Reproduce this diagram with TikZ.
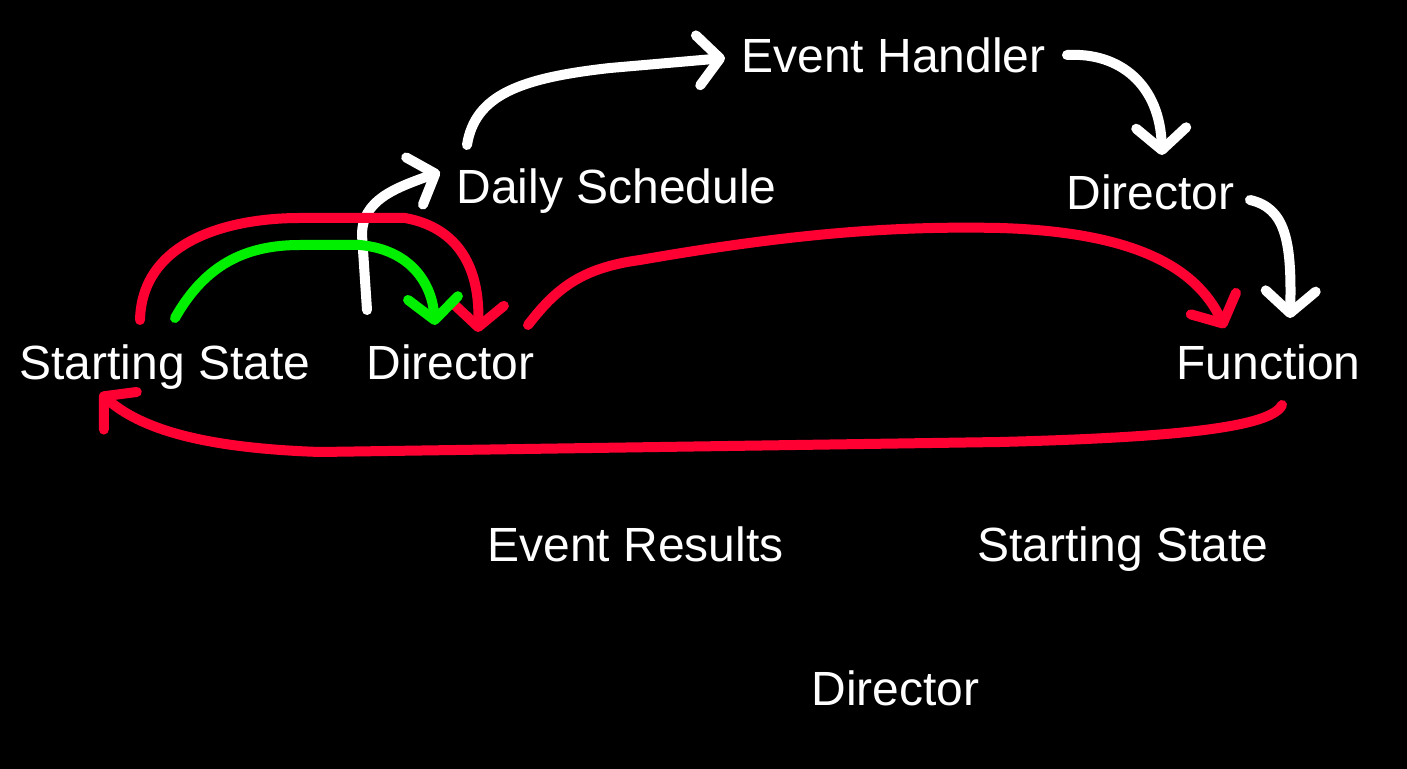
\documentclass[tikz,border=0pt]{standalone}
\usepackage{fontspec}
\setmainfont{Liberation Sans}
\usetikzlibrary{arrows.meta,positioning}
\definecolor{penred}{RGB}{255,0,51}
\definecolor{pengreen}{RGB}{0,240,0}

\begin{document}
\begin{tikzpicture}[
        x=0.5pt, y=-0.5pt,
        every node/.style={text=white, inner sep=0pt, anchor=base west, font=\fontsize{24}{29}\selectfont},
        pen/.style={line width=5pt, line cap=round, line join=round, -{Straight Barb[length=11pt,width=25pt,round]}}
    ]
    \fill[black] (0,0) rectangle (1407,769);

    % Nodes
    \node (ssL) at (19,380) {Starting State};
    \node (dirL) at (366,380) {Director};
    \node (fn) at (1176,380) {Function};
    \node (daily) at (456,204) {Daily Schedule};
    \node (evh) at (741,73) {Event Handler};
    \node (dirR) at (1066,210) {Director};
    \node (evr) at (487,561) {Event Results};
    \node (ssR) at (977,561) {Starting State};
    \node (dirB) at (811,705) {Director};

    % Edges
    \draw[pen, white] ([shift={(1,-70)}]dirL.base west) -- (362,235) .. controls (362,200) and (395,188) .. ([shift={(-16,-32)}]daily.base west);
    \draw[pen, white] ([shift={(11,-59)}]daily.base west) .. controls (475,95) and (520,78) .. (610,68) -- ([shift={(-16,-15)}]evh.base west);
    \draw[pen, white] ([shift={(326,-18)}]evh.base west) .. controls (1120,52) and (1160,85) .. ([shift={(96,-55)}]dirR.base west);
    \draw[pen, white] ([shift={(184,-10)}]dirR.base west) .. controls (1285,208) and (1292,240) .. ([shift={(114,-62)}]fn.base west);
    \draw[pen, penred] ([shift={(121,-60)}]ssL.base west) .. controls (142,240) and (230,218) .. (300,218) -- (405,218) .. controls (460,228) and (480,270) .. ([shift={(112,-48)}]dirL.base west);
    \draw[pen, pengreen] ([shift={(156,-62)}]ssL.base west) .. controls (205,265) and (245,245) .. (300,245) -- (360,245) .. controls (412,250) and (432,285) .. ([shift={(69,-55)}]dirL.base west);
    \draw[pen, penred] ([shift={(162,-55)}]dirL.base west) .. controls (555,290) and (580,268) .. (640,260) .. controls (800,232) and (900,226) .. (1000,228) .. controls (1130,232) and (1195,265) .. ([shift={(49,-52)}]fn.base west);
    \draw[pen, penred] ([shift={(106,25)}]fn.base west) .. controls (1270,430) and (1150,438) .. (1000,442) -- (320,452) .. controls (200,448) and (140,428) .. ([shift={(81,13)}]ssL.base west);

\end{tikzpicture}
\end{document}
